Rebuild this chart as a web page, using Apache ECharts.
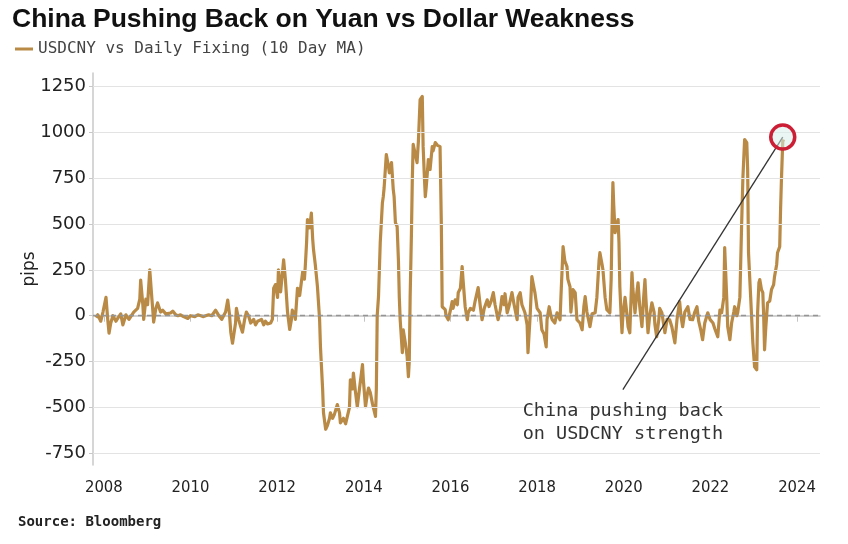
<!DOCTYPE html>
<html>
<head>
<meta charset="utf-8">
<script src="https://cdn.jsdelivr.net/npm/echarts@6/dist/echarts.min.js"></script>
<style>
html,body{margin:0;padding:0;background:#fff;}
#chart{width:848px;height:544px;}
</style>
</head>
<body>
<div id="chart"></div>
<script>
// Decimal-year dates and USDCNY vs daily fixing spread (pips, 10-day MA)
const dates = [
2007.82,2007.86,2007.93,2007.98,2008.05,2008.09,2008.12,2008.16,2008.21,2008.28,
2008.32,2008.39,2008.44,2008.51,2008.58,2008.62,2008.69,2008.78,2008.83,2008.85,
2008.90,2008.92,2008.97,2009.01,2009.06,2009.11,2009.13,2009.15,2009.20,2009.24,
2009.31,2009.36,2009.43,2009.47,2009.54,2009.59,2009.66,2009.71,2009.77,2009.84,
2009.94,2010.00,2010.10,2010.17,2010.24,2010.30,2010.35,2010.42,2010.49,2010.53,
2010.58,2010.63,2010.67,2010.72,2010.76,2010.81,2010.86,2010.90,2010.93,2010.97,
2011.00,2011.04,2011.06,2011.11,2011.16,2011.20,2011.25,2011.29,2011.34,2011.39,
2011.46,2011.50,2011.55,2011.59,2011.64,2011.69,2011.73,2011.78,2011.85,2011.89,
2011.92,2011.96,2012.01,2012.03,2012.08,2012.15,2012.19,2012.24,2012.29,2012.33,
2012.35,2012.40,2012.42,2012.47,2012.52,2012.59,2012.63,2012.65,2012.68,2012.70,
2012.75,2012.79,2012.82,2012.84,2012.88,2012.93,2012.98,2013.00,2013.05,2013.07,
2013.12,2013.16,2013.21,2013.23,2013.28,2013.32,2013.39,2013.44,2013.46,2013.53,
2013.58,2013.62,2013.67,2013.69,2013.74,2013.76,2013.81,2013.85,2013.90,2013.97,
2013.99,2014.04,2014.08,2014.11,2014.15,2014.20,2014.27,2014.29,2014.31,2014.34,
2014.38,2014.43,2014.45,2014.47,2014.52,2014.57,2014.59,2014.64,2014.68,2014.70,
2014.73,2014.77,2014.80,2014.82,2014.84,2014.89,2014.91,2014.96,2015.00,2015.03,
2015.05,2015.07,2015.10,2015.12,2015.14,2015.19,2015.23,2015.26,2015.30,2015.35,
2015.37,2015.40,2015.42,2015.44,2015.49,2015.53,2015.58,2015.60,2015.65,2015.70,
2015.76,2015.79,2015.81,2015.83,2015.88,2015.90,2015.95,2016.00,2016.04,2016.06,
2016.11,2016.16,2016.18,2016.23,2016.27,2016.29,2016.34,2016.39,2016.41,2016.46,
2016.53,2016.57,2016.64,2016.69,2016.73,2016.78,2016.85,2016.89,2016.94,2016.99,
2017.03,2017.10,2017.15,2017.19,2017.24,2017.26,2017.31,2017.35,2017.42,2017.47,
2017.54,2017.56,2017.61,2017.65,2017.72,2017.77,2017.79,2017.84,2017.88,2017.93,
2017.95,2018.00,2018.07,2018.11,2018.16,2018.21,2018.23,2018.28,2018.32,2018.35,
2018.41,2018.46,2018.53,2018.55,2018.60,2018.64,2018.69,2018.71,2018.76,2018.78,
2018.83,2018.88,2018.92,2018.99,2019.04,2019.08,2019.11,2019.15,2019.22,2019.27,
2019.34,2019.38,2019.43,2019.45,2019.50,2019.52,2019.57,2019.61,2019.68,2019.71,
2019.73,2019.75,2019.77,2019.80,2019.84,2019.87,2019.89,2019.91,2019.94,2019.96,
2019.98,2020.03,2020.07,2020.10,2020.14,2020.19,2020.21,2020.26,2020.30,2020.33,
2020.37,2020.42,2020.46,2020.49,2020.51,2020.56,2020.60,2020.65,2020.70,2020.72,
2020.76,2020.81,2020.83,2020.88,2020.93,2020.95,2021.00,2021.06,2021.11,2021.18,
2021.23,2021.29,2021.32,2021.36,2021.41,2021.48,2021.53,2021.59,2021.64,2021.69,
2021.73,2021.78,2021.82,2021.87,2021.94,2021.99,2022.06,2022.10,2022.17,2022.22,
2022.26,2022.31,2022.33,2022.38,2022.40,2022.45,2022.49,2022.54,2022.56,2022.61,
2022.63,2022.68,2022.72,2022.75,2022.79,2022.84,2022.86,2022.88,2022.91,2022.93,
2022.95,2022.98,2023.02,2023.07,2023.09,2023.12,2023.14,2023.18,2023.21,2023.23,
2023.25,2023.28,2023.32,2023.37,2023.41,2023.46,2023.48,2023.53,2023.55,2023.60,
2023.62,2023.64,2023.67,2023.69
];
const spread = [
-10,5,-30,20,100,-20,-95,-40,0,-30,
-15,10,-50,5,-20,-30,20,40,90,195,
60,-20,90,60,250,90,30,-35,40,70,
20,30,10,0,15,25,5,0,5,-5,
-15,0,-5,5,0,-5,0,5,0,10,
30,10,-5,-20,-30,20,85,10,-90,-150,
-160,-40,40,-20,-60,-90,-20,20,0,-40,
-20,-50,-30,-40,-20,-50,-30,-45,-40,-20,
150,170,100,250,130,305,200,20,-75,-20,
30,10,-20,150,110,240,200,270,400,525,
480,560,420,360,280,160,-20,-170,-400,-530,
-620,-600,-560,-530,-560,-540,-485,-530,-585,-560,
-590,-580,-500,-350,-400,-313,-420,-497,-400,-267,
-350,-497,-430,-395,-420,-480,-550,-400,0,105,
400,617,650,700,880,815,780,836,690,650,
508,487,300,100,-22,-202,-77,-150,-222,-333,
-250,100,450,743,935,880,836,950,1180,1197,
923,750,650,700,852,798,923,900,945,930,
923,500,49,40,33,0,-22,30,77,40,
87,60,126,150,268,200,49,-22,16,40,
30,80,153,50,-22,40,87,50,80,126,
60,-22,30,104,60,120,16,50,126,60,
-22,100,126,60,16,-50,-202,0,213,150,
126,40,16,-77,-100,-170,-20,49,0,-22,
-40,16,-22,100,377,300,268,200,158,20,
142,126,-22,-40,-77,50,104,20,-60,10,
16,100,300,344,280,251,100,33,16,200,
500,727,600,453,500,525,400,158,0,-93,
0,100,16,-60,-93,235,150,16,120,180,
50,-60,100,197,100,-93,0,70,20,-50,
-115,-20,40,16,-60,-93,-20,-22,-60,-148,
-20,77,0,-60,20,49,-20,-22,20,49,
-30,-80,-131,-40,16,-20,-40,-70,-115,30,
16,100,372,80,-60,-131,-40,20,49,0,
16,100,487,750,962,945,800,344,197,100,
0,-148,-279,-295,16,180,197,142,126,0,
-186,-60,70,80,142,170,213,280,344,377,
580,743,950,962
];
const xTicks = [2008,2010,2012,2014,2016,2018,2020,2022,2024];
const yTicks = [-750,-500,-250,0,250,500,750,1000,1250];
const highlightPoint = [2023.67, 975];
const calloutEnd = [2019.98, -404];
const seriesName = 'USDCNY vs Daily Fixing (10 Day MA)';
const calloutText = 'China pushing back\non USDCNY strength';

const lineData = dates.map((d, i) => [d, spread[i]]);
const gridLines = yTicks.map(v => ({
  yAxis: v,
  lineStyle: v === 0
    ? {color: '#959595', type: [5, 4], width: 1.3}
    : {color: '#e3e3e3', type: 'solid', width: 1.2}
}));

const chart = echarts.init(document.getElementById('chart'), null, {renderer: 'canvas'});
chart.setOption({
  animation: false,
  backgroundColor: '#ffffff',
  title: [
    {
      text: 'China Pushing Back on Yuan vs Dollar Weakness',
      left: 7, top: 1,
      textStyle: {fontFamily: 'Liberation Sans', fontWeight: 'bold', fontSize: 26.5, color: '#111'}
    },
    {
      text: 'Source: Bloomberg',
      left: 13, top: 510,
      textStyle: {fontFamily: 'DejaVu Sans Mono', fontWeight: 'bold', fontSize: 14, color: '#222'}
    }
  ],
  legend: {
    data: [seriesName],
    left: 15, top: 41, padding: 0,
    icon: 'rect', itemWidth: 18, itemHeight: 3, itemGap: 10,
    textStyle: {fontFamily: 'DejaVu Sans Mono', fontSize: 16, color: '#444'}
  },
  grid: {left: 93, right: 28, top: 73, bottom: 79},
  xAxis: {
    type: 'value',
    min: 2007.75, max: 2024.53,
    axisLine: {show: true, lineStyle: {color: '#c4c4c4', width: 1.5}},
    axisTick: {show: true, customValues: xTicks, length: 6, lineStyle: {color: '#c4c4c4'}},
    axisLabel: {
      customValues: xTicks, margin: 14, formatter: v => String(v),
      fontFamily: 'DejaVu Sans Condensed', fontSize: 16.5, color: '#222'
    },
    splitLine: {show: false}
  },
  yAxis: {
    type: 'value',
    min: -815, max: 1325,
    name: 'pips', nameLocation: 'middle', nameGap: 55, nameRotate: 90,
    nameMoveOverlap: false,
    nameTextStyle: {fontFamily: 'DejaVu Sans', fontSize: 17, color: '#222'},
    axisLine: {show: true, lineStyle: {color: '#c8c8c8', width: 1.5}},
    axisTick: {show: true, customValues: yTicks, length: 4, lineStyle: {color: '#c8c8c8'}},
    axisLabel: {
      customValues: yTicks, margin: 7, formatter: v => String(v),
      fontFamily: 'DejaVu Sans', fontSize: 18, color: '#222'
    },
    splitLine: {show: false}
  },
  series: [
    {
      name: 'grid',
      type: 'line',
      data: [],
      z: 1,
      silent: true,
      markLine: {
        silent: true, symbol: 'none', animation: false,
        label: {show: false},
        data: gridLines
      }
    },
    {
      name: seriesName,
      type: 'line',
      data: lineData,
      z: 3,
      showSymbol: false,
      symbol: 'none',
      color: '#b98a45',
      lineStyle: {color: '#b98a45', width: 3.2, join: 'round'},
      markLine: {
        silent: true, symbol: 'none', animation: false,
        label: {show: false},
        lineStyle: {color: '#333333', width: 1.3, type: 'solid'},
        data: [[{coord: highlightPoint}, {coord: calloutEnd}]]
      },
      markPoint: {
        silent: true, animation: false,
        data: [
          {
            coord: highlightPoint, symbol: 'circle', symbolSize: 24,
            itemStyle: {color: 'rgba(215,238,235,0.55)', borderColor: '#cc1f36', borderWidth: 3.5},
            label: {show: false}
          },
          {
            coord: calloutEnd, symbol: 'circle', symbolSize: 1,
            itemStyle: {color: 'rgba(0,0,0,0)'},
            label: {
              show: true, position: 'bottom', distance: 9,
              formatter: calloutText, align: 'center',
              fontFamily: 'DejaVu Sans Mono', fontSize: 18.5, lineHeight: 23, color: '#333'
            }
          }
        ]
      }
    }
  ]
});
</script>
</body>
</html>
